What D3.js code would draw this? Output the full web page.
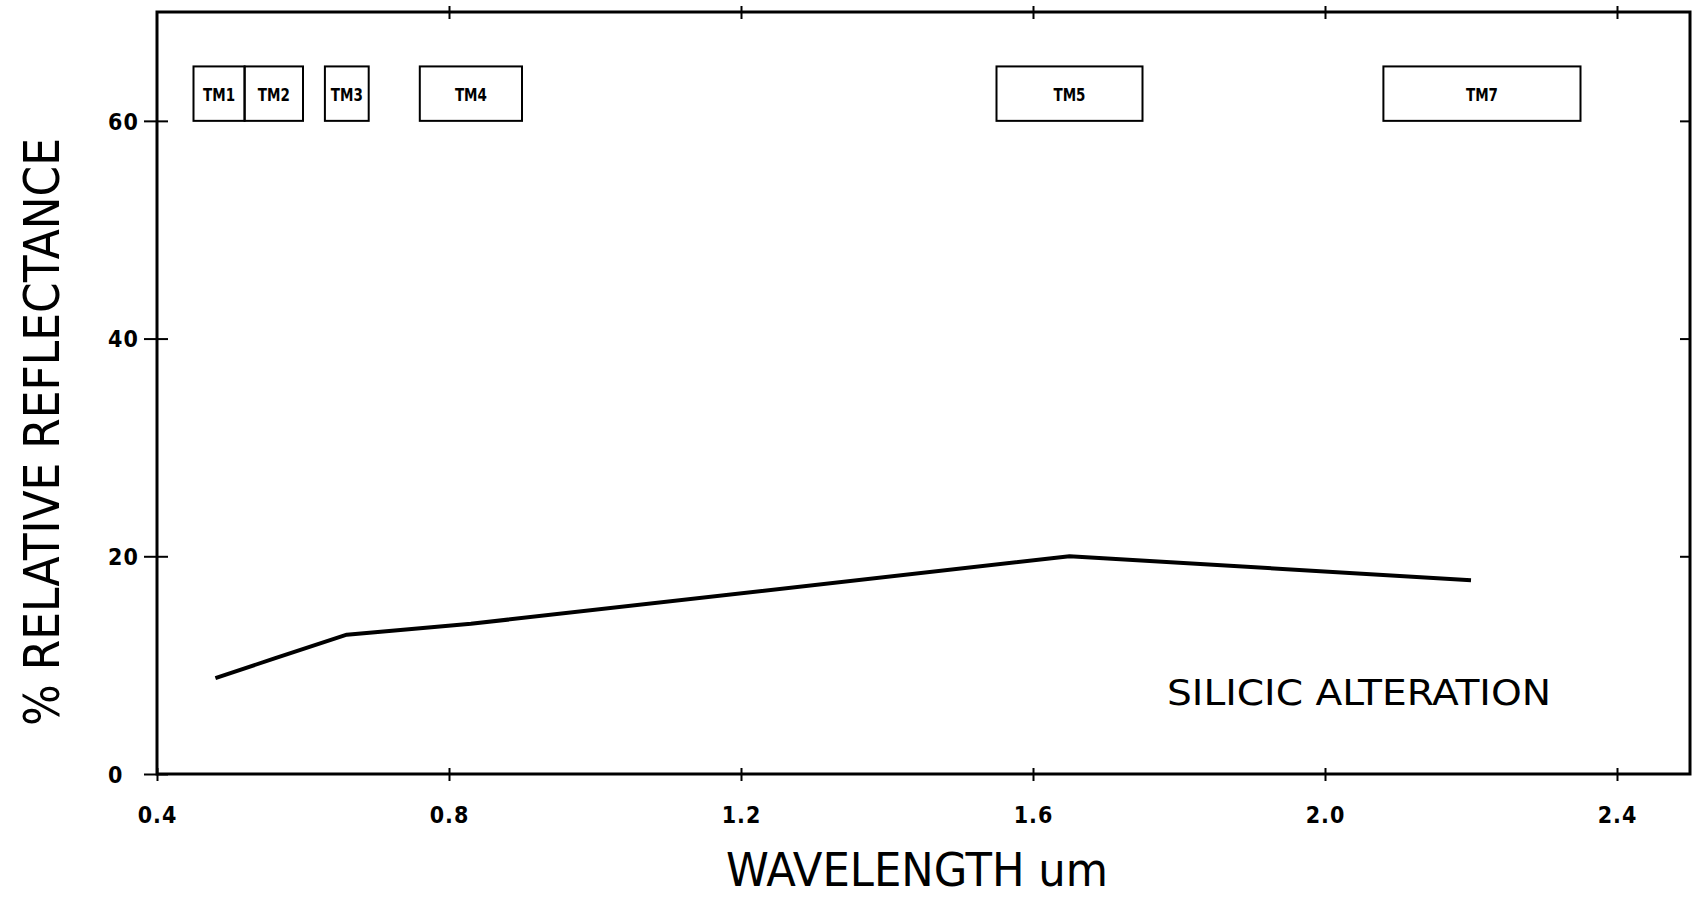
<!DOCTYPE html>
<html>
<head>
<meta charset="utf-8">
<script src="https://cdn.jsdelivr.net/npm/d3@7"></script>
<style>
  body { margin: 0; background: #fff; }
  text { font-family: 'DejaVu Sans Condensed', 'DejaVu Sans', sans-serif; fill: #000; }
  .tick-label { font-size: 23px; font-weight: bold; letter-spacing: 1px; }
  .band-label { font-size: 18px; font-weight: bold; }
</style>
</head>
<body>
<div id="chart"></div>
<script>
// spectrum
const wavelength = [0.48, 0.56, 0.66, 0.83, 1.65, 2.2]
const reflectance = [8.8, 10.6, 12.8, 13.8, 20.0, 17.8]

// Landsat TM bands
const bandNames = ['TM1', 'TM2', 'TM3', 'TM4', 'TM5', 'TM7']
const bandStart = [0.45, 0.52, 0.63, 0.76, 1.55, 2.08]
const bandEnd = [0.52, 0.60, 0.69, 0.90, 1.75, 2.35]
const bandRange = [60, 65]

const xTicks = [0.4, 0.8, 1.2, 1.6, 2.0, 2.4]
const yTicks = [0, 20, 40, 60]

const WIDTH = 1695
const HEIGHT = 898
const margin = { top: 12, right: 5, bottom: 124, left: 157 }

const svg = d3.select('#chart')
  .append('svg')
  .attr('width', WIDTH)
  .attr('height', HEIGHT)

const x = d3.scaleLinear().domain([0.4, 2.5]).range([margin.left, WIDTH - margin.right])
const y = d3.scaleLinear().domain([0, 70]).range([HEIGHT - margin.bottom, margin.top])

// frame
svg.append('rect')
  .attr('x', x(0.4))
  .attr('y', y(70))
  .attr('width', x(2.5) - x(0.4))
  .attr('height', y(0) - y(70))
  .attr('fill', 'none')
  .attr('stroke', '#000')
  .attr('stroke-width', 3)

// bottom axis, ticks crossing the line
svg.append('g')
  .attr('transform', `translate(0,${y(0)})`)
  .call(d3.axisBottom(x).tickValues(xTicks).tickFormat(d3.format('.1f')).tickSize(0))
  .call(g => g.select('.domain').remove())
  .call(g => g.selectAll('.tick line').attr('y1', -6).attr('y2', 7)
    .attr('stroke', '#000').attr('stroke-width', 2))
  .call(g => g.selectAll('.tick text').attr('class', 'tick-label')
    .attr('dy', null).attr('y', 49).attr('fill', '#000').attr('font-family', null).attr('font-size', null))

// top axis ticks
svg.append('g')
  .attr('transform', `translate(0,${y(70)})`)
  .call(d3.axisTop(x).tickValues(xTicks.slice(1)).tickFormat('').tickSize(0))
  .call(g => g.select('.domain').remove())
  .call(g => g.selectAll('.tick line').attr('y1', -6).attr('y2', 7)
    .attr('stroke', '#000').attr('stroke-width', 2))

// left axis
svg.append('g')
  .attr('transform', `translate(${x(0.4)},0)`)
  .call(d3.axisLeft(y).tickValues(yTicks).tickSize(0))
  .call(g => g.select('.domain').remove())
  .call(g => g.selectAll('.tick line').attr('x1', -13).attr('x2', 11)
    .attr('stroke', '#000').attr('stroke-width', 2))
  .call(g => g.selectAll('.tick text').attr('class', 'tick-label')
    .attr('text-anchor', 'start').attr('x', 108 - x(0.4)).attr('dy', '0.36em')
    .attr('fill', '#000').attr('font-family', null).attr('font-size', null))

// right axis ticks
svg.append('g')
  .attr('transform', `translate(${x(2.5)},0)`)
  .call(d3.axisRight(y).tickValues(yTicks.slice(1)).tickFormat('').tickSize(0))
  .call(g => g.select('.domain').remove())
  .call(g => g.selectAll('.tick line').attr('x1', -10).attr('x2', 0)
    .attr('stroke', '#000').attr('stroke-width', 2))

// band boxes
const bands = bandNames.map((name, i) => ({ name, start: bandStart[i], end: bandEnd[i] }))
const band = svg.selectAll('.band')
  .data(bands)
  .enter()
  .append('g')
  .attr('class', 'band')
band.append('rect')
  .attr('x', d => x(d.start))
  .attr('y', y(bandRange[1]))
  .attr('width', d => x(d.end) - x(d.start))
  .attr('height', y(bandRange[0]) - y(bandRange[1]))
  .attr('fill', 'none')
  .attr('stroke', '#000')
  .attr('stroke-width', 2)
band.append('text')
  .attr('class', 'band-label')
  .attr('x', d => (x(d.start) + x(d.end)) / 2)
  .attr('y', (y(bandRange[0]) + y(bandRange[1])) / 2 + 7)
  .attr('text-anchor', 'middle')
  .attr('textLength', 32)
  .attr('lengthAdjust', 'spacingAndGlyphs')
  .text(d => d.name)

// spectrum line
const points = wavelength.map((w, i) => [w, reflectance[i]])
svg.append('path')
  .datum(points)
  .attr('fill', 'none')
  .attr('stroke', '#000')
  .attr('stroke-width', 4)
  .attr('stroke-linejoin', 'round')
  .attr('d', d3.line().x(d => x(d[0])).y(d => y(d[1])))

// titles
svg.append('text')
  .attr('x', 917)
  .attr('y', 886)
  .attr('text-anchor', 'middle')
  .attr('font-size', 46)
  .attr('textLength', 382)
  .attr('lengthAdjust', 'spacingAndGlyphs')
  .text('WAVELENGTH um')

svg.append('text')
  .attr('transform', 'translate(59,432) rotate(-90)')
  .attr('text-anchor', 'middle')
  .attr('font-size', 50)
  .attr('textLength', 588)
  .attr('lengthAdjust', 'spacingAndGlyphs')
  .text('% RELATIVE REFLECTANCE')

svg.append('text')
  .attr('x', 1167)
  .attr('y', 705)
  .attr('font-size', 36)
  .attr('textLength', 384)
  .attr('lengthAdjust', 'spacingAndGlyphs')
  .text('SILICIC ALTERATION')
</script>
</body>
</html>
